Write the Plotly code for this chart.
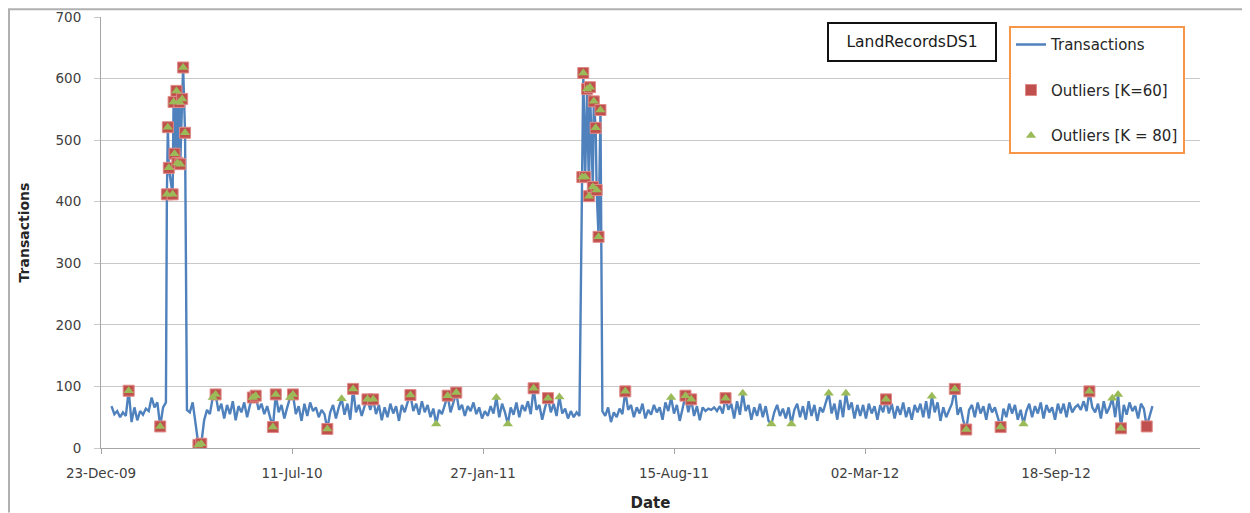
import numpy as np
import pandas as pd
import plotly.graph_objects as go

# ---------------- data ----------------
step_days = 3

seg_a_start = "2010-01-03"
seg_a_values = [68, 55, 60, 50, 58, 52, 93, 42, 66, 45,
                60, 54, 64, 60, 82, 66, 74, 35, 66, 74]

spike1_dates = ["2010-03-02", "2010-03-03", "2010-03-04", "2010-03-08", "2010-03-09",
                "2010-03-10", "2010-03-12", "2010-03-13", "2010-03-15", "2010-03-16",
                "2010-03-18", "2010-03-19", "2010-03-21"]
spike1_values = [412, 521, 455, 412, 562, 478, 580, 463, 562, 461, 567, 618, 512]

seg_b_start = "2010-03-23"
seg_b_values = [62, 58, 74, 40, 5, 7, 45, 62, 55, 82,
                87, 60, 72, 48, 70, 55, 76, 45, 68, 58,
                74, 50, 70, 82, 85, 62, 72, 55, 68, 50,
                34, 87, 58, 70, 48, 66, 82, 87, 55, 68,
                44, 72, 52, 74, 60, 66, 50, 62, 55, 31,
                58, 70, 48, 66, 80, 54, 72, 46, 96, 58,
                70, 52, 68, 79, 62, 79, 55, 70, 45, 66,
                50, 72, 56, 68, 44, 70, 58, 74, 86, 60,
                72, 54, 76, 58, 70, 50, 64, 39, 62, 55,
                72, 85, 58, 74, 90, 62, 70, 52, 68, 60,
                74, 55, 66, 48, 60, 52, 68, 56, 82, 50,
                72, 58, 39, 66, 54, 74, 50, 70, 60, 76,
                55, 97, 62, 70, 46, 66, 81, 58, 72, 52,
                83, 56, 64, 48, 60, 50, 58, 52]

spike2_dates = ["2011-05-11", "2011-05-12", "2011-05-14", "2011-05-16", "2011-05-18",
                "2011-05-19", "2011-05-22", "2011-05-23", "2011-05-25", "2011-05-26",
                "2011-05-28", "2011-05-30"]
spike2_values = [440, 609, 440, 583, 409, 586, 424, 563, 520, 419, 343, 549]

seg_c_start = "2011-06-01"
seg_c_values = [60, 52, 66, 42, 58, 50, 64, 55, 92, 62,
                70, 50, 66, 56, 72, 48, 62, 54, 70, 58,
                66, 46, 74, 60, 82, 56, 70, 44, 64, 85,
                58, 79, 52, 68, 45, 66, 60, 64, 62, 66,
                60, 68, 56, 81, 62, 72, 48, 76, 54, 89,
                60, 70, 46, 66, 52, 72, 50, 68, 44, 39,
                58, 70, 52, 64, 48, 66, 39, 62, 72, 50,
                68, 46, 76, 52, 70, 44, 66, 58, 74, 89,
                56, 72, 46, 78, 50, 89, 62, 74, 48, 70,
                52, 70, 48, 72, 56, 68, 46, 70, 58, 79,
                56, 72, 48, 68, 54, 74, 50, 66, 46, 70,
                58, 72, 50, 76, 48, 84, 58, 74, 44, 66,
                50, 60, 72, 96, 54, 66, 44, 30, 62, 70,
                50, 74, 56, 68, 46, 72, 58, 66, 50, 34,
                64, 50, 72, 56, 70, 46, 62, 39, 60, 72,
                50, 68, 56, 74, 48, 70, 58, 66, 46, 72,
                56, 72, 50, 74, 58, 66, 70, 62, 76, 60,
                92, 66, 58, 72, 48, 76, 56, 66, 81, 50,
                87, 32, 70, 54, 74, 60, 68, 48, 72, 64,
                35, 52, 68]

# outliers flagged by both runs, by K=60 only, by K=80 only
both_dates = (["2010-01-21", "2010-02-23"] + spike1_dates +
              ["2010-04-04", "2010-04-07", "2010-04-22", "2010-05-31", "2010-06-03",
               "2010-06-21", "2010-06-24", "2010-07-12", "2010-08-17", "2010-09-13",
               "2010-09-28", "2010-10-04", "2010-11-12", "2010-12-21", "2010-12-30",
               "2011-03-21", "2011-04-05"] + spike2_dates +
              ["2011-06-25", "2011-08-27", "2011-09-02", "2011-10-08", "2012-03-24",
               "2012-06-04", "2012-06-16", "2012-07-22", "2012-10-23", "2012-11-25"])
k60_only_dates = ["2012-12-22"]
k80_only_dates = ["2010-04-19", "2010-07-09", "2010-09-01", "2010-12-09", "2011-02-10",
                  "2011-02-22", "2011-04-17", "2011-08-12", "2011-10-26", "2011-11-25",
                  "2011-12-16", "2012-01-24", "2012-02-11", "2012-05-11", "2012-08-15",
                  "2012-11-16", "2012-11-22"]

tick_dates = ["2009-12-23", "2010-07-11", "2011-01-27", "2011-08-15", "2012-03-02", "2012-09-18"]
tick_labels = ["23-Dec-09", "11-Jul-10", "27-Jan-11", "15-Aug-11", "02-Mar-12", "18-Sep-12"]

# ---------------- build series ----------------
def grid(start, values):
    return list(pd.date_range(start, periods=len(values), freq=f"{step_days}D")), list(values)

parts = [grid(seg_a_start, seg_a_values),
         (list(pd.to_datetime(spike1_dates)), spike1_values),
         grid(seg_b_start, seg_b_values),
         (list(pd.to_datetime(spike2_dates)), spike2_values),
         grid(seg_c_start, seg_c_values)]
series = pd.Series(dtype=float)
for d, v in parts:
    series = pd.concat([series, pd.Series(v, index=pd.DatetimeIndex(d), dtype=float)])
series = series.sort_index()

ts = series.index.asi8.astype(float)

def on_line(dates):
    dd = pd.to_datetime(dates)
    return dd, np.interp(dd.asi8.astype(float), ts, series.values)

k60_dates = sorted(both_dates + k60_only_dates)
k80_dates = sorted(both_dates + k80_only_dates)
k60_x, k60_y = on_line(k60_dates)
k80_x, k80_y = on_line(k80_dates)

# ---------------- figure ----------------
FONT = "DejaVu Sans"
fig = go.Figure()
fig.add_trace(go.Scatter(x=series.index, y=series.values, mode="lines", name="Transactions",
                         line=dict(color="#4F81BD", width=2.4), legendgroup="a"))
fig.add_trace(go.Scatter(x=k60_x, y=k60_y, mode="markers", name="Outliers [K=60]",
                         marker=dict(symbol="square", size=11, color="#C0504D",
                                     line=dict(color="#E08A87", width=1)), legendgroup="b"))
fig.add_trace(go.Scatter(x=k80_x, y=k80_y, mode="markers", name="Outliers [K = 80]",
                         marker=dict(symbol="triangle-up", size=9, color="#9BBB59",
                                     line=dict(width=0)), legendgroup="c"))

# page body has an 8px margin: the figure itself starts at page (8, 8)
def px_x(px):
    return (px - 101) / 1099.0

def px_y(py):
    return (448.3 - py) / 431.6

fig.update_layout(
    width=1242, height=505,
    margin=dict(l=93, r=50, t=9, b=65, autoexpand=False),
    plot_bgcolor="white", paper_bgcolor="white",
    font=dict(family=FONT, size=13, color="#404040"),
    showlegend=True,
    legend=dict(x=px_x(1009), y=px_y(26), xanchor="left", yanchor="top",
                bordercolor="#F79646", borderwidth=2, bgcolor="white",
                font=dict(family=FONT, size=15, color="#262626"),
                tracegroupgap=23, itemwidth=30),
    xaxis=dict(type="date", range=["2009-12-23", "2013-02-15 19:00"],
               tickvals=tick_dates, ticktext=tick_labels,
               ticks="outside", ticklen=5, tickcolor="#A6A6A6",
               showline=True, linecolor="#A6A6A6", linewidth=1,
               showgrid=False, zeroline=False, ticklabelstandoff=8, automargin=False,
               tickfont=dict(family=FONT, size=13.5, color="#404040"),
               title=dict(text="<b>Date</b>", standoff=17,
                          font=dict(family=FONT, size=15, color="#262626"))),
    yaxis=dict(range=[0, 700], dtick=100, tick0=0,
               ticks="outside", ticklen=6, tickcolor="#C8C8C8",
               showline=True, linecolor="#A6A6A6", linewidth=1,
               showgrid=True, gridcolor="#C8C8C8", gridwidth=1, zeroline=False,
               ticklabelstandoff=10, automargin=False,
               tickfont=dict(family=FONT, size=13.5, color="#404040"),
               title=dict(text="<b>Transactions</b>", standoff=22,
                          font=dict(family=FONT, size=14, color="#262626"))),
    annotations=[dict(x=px_x(912), y=px_y(42), xref="paper", yref="paper",
                      xanchor="center", yanchor="middle",
                      text="LandRecordsDS1", showarrow=False,
                      font=dict(family=FONT, size=15.5, color="#1a1a1a"),
                      bordercolor="#111111", borderwidth=2, borderpad=3,
                      bgcolor="white", width=160, height=30)],
    shapes=[dict(type="line", xref="paper", yref="paper",
                 x0=px_x(8), x1=px_x(1250), y0=px_y(9), y1=px_y(9),
                 line=dict(color="#B0B0B0", width=2)),
            dict(type="line", xref="paper", yref="paper",
                 x0=px_x(9), x1=px_x(9), y0=px_y(9), y1=px_y(513),
                 line=dict(color="#B0B0B0", width=2))],
)

fig.write_html("out.html")
